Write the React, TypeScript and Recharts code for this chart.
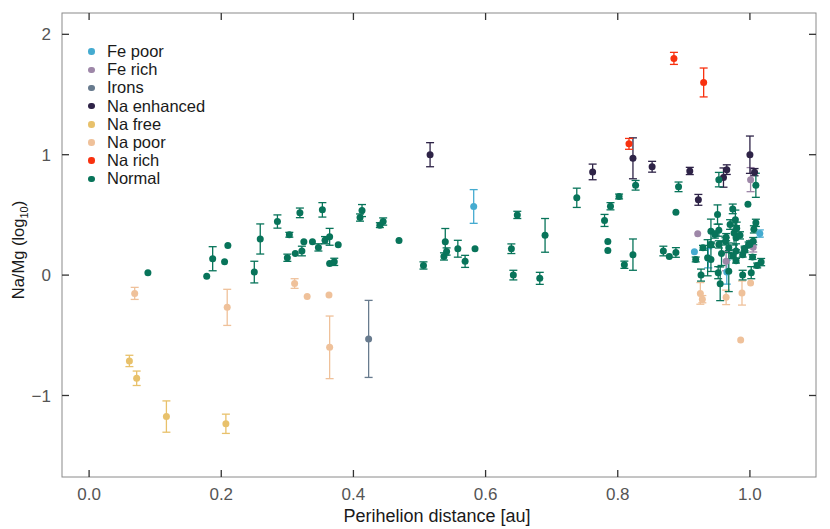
import React from 'react';
import { ErrorBar, Scatter, ScatterChart, XAxis, YAxis } from 'recharts';

type Pt = [number, number, number]; // perihelion distance, Na/Mg, error

const X_TICKS = [0, 0.2, 0.4, 0.6, 0.8, 1.0];
const Y_TICKS = [-1, 0, 1, 2];
const X_DOMAIN: [number, number] = [-0.041, 1.1];
const Y_DOMAIN: [number, number] = [-1.677, 2.177];

const FE_POOR: Pt[] = [
  [0.582, 0.57, 0.14], [0.916, 0.194, 0.0], [0.937, 0.14, 0.08], [0.965, 0.025, 0.1], [1.015, 0.345, 0.03],
];
const FE_RICH: Pt[] = [
  [0.921, 0.343, 0.0], [1.001, 0.793, 0.1], [1.005, 0.232, 0.04], [0.964, 0.116, 0.08], [1.003, 0.26, 0.03],
];
const IRONS: Pt[] = [[0.423, -0.53, 0.32]];
const NA_ENHANCED: Pt[] = [
  [0.516, 1.0, 0.1], [0.762, 0.857, 0.065], [0.823, 0.97, 0.17], [0.852, 0.9, 0.045], [0.909, 0.865, 0.03],
  [0.922, 0.625, 0.045], [0.96, 0.81, 0.08], [0.965, 0.876, 0.04], [1.0, 1.0, 0.155], [1.007, 0.855, 0.03],
];
const NA_FREE: Pt[] = [
  [0.061, -0.713, 0.047], [0.072, -0.857, 0.06], [0.117, -1.175, 0.13], [0.207, -1.235, 0.08],
];
const NA_POOR: Pt[] = [
  [0.069, -0.152, 0.05], [0.209, -0.268, 0.15], [0.311, -0.07, 0.04], [0.33, -0.177, 0.0],
  [0.363, -0.166, 0.0], [0.364, -0.6, 0.26], [0.925, -0.152, 0.09], [0.928, -0.2, 0.03],
  [0.964, -0.185, 0.06], [0.988, -0.149, 0.1], [1.001, -0.066, 0.0], [0.986, -0.54, 0.0],
];
const NA_RICH: Pt[] = [[0.817, 1.09, 0.045], [0.885, 1.8, 0.05], [0.93, 1.6, 0.12]];
const NORMAL: Pt[] = [
  [0.089, 0.02, 0.0], [0.178, -0.01, 0.0], [0.187, 0.136, 0.1], [0.205, 0.11, 0.0], [0.21, 0.246, 0.0],
  [0.25, 0.025, 0.09], [0.259, 0.3, 0.125], [0.285, 0.445, 0.055], [0.3, 0.144, 0.03], [0.303, 0.335, 0.02],
  [0.312, 0.18, 0.0], [0.319, 0.517, 0.04], [0.322, 0.2, 0.04], [0.325, 0.277, 0.0], [0.338, 0.277, 0.0],
  [0.347, 0.23, 0.03], [0.353, 0.542, 0.06], [0.357, 0.29, 0.03], [0.364, 0.318, 0.07], [0.364, 0.097, 0.0],
  [0.371, 0.11, 0.03], [0.377, 0.252, 0.0], [0.41, 0.478, 0.03], [0.413, 0.536, 0.05], [0.44, 0.415, 0.02],
  [0.445, 0.445, 0.03], [0.469, 0.288, 0.0], [0.506, 0.08, 0.03], [0.539, 0.277, 0.11], [0.537, 0.155, 0.03],
  [0.541, 0.196, 0.03], [0.558, 0.219, 0.07], [0.569, 0.114, 0.05], [0.584, 0.219, 0.0], [0.639, 0.219, 0.04],
  [0.642, 0.0, 0.04], [0.648, 0.5, 0.03], [0.682, -0.027, 0.05], [0.69, 0.33, 0.14], [0.738, 0.642, 0.08],
  [0.78, 0.454, 0.05], [0.785, 0.28, 0.0], [0.785, 0.205, 0.0], [0.789, 0.572, 0.03], [0.802, 0.653, 0.02],
  [0.81, 0.086, 0.03], [0.823, 0.17, 0.13], [0.827, 0.746, 0.04], [0.869, 0.2, 0.04], [0.878, 0.155, 0.0],
  [0.888, 0.522, 0.0], [0.888, 0.188, 0.04], [0.892, 0.733, 0.04],
  [0.926, 0.0, 0.05], [0.918, 0.13, 0.02], [0.929, 0.227, 0.02], [0.936, 0.144, 0.15], [0.941, 0.13, 0.1],
  [0.941, 0.365, 0.1], [0.947, 0.337, 0.03], [0.941, 0.255, 0.02], [0.951, 0.503, 0.08], [0.953, 0.373, 0.05],
  [0.953, 0.255, 0.03], [0.953, 0.793, 0.06], [0.952, 0.02, 0.05], [0.955, -0.072, 0.14], [0.957, 0.18, 0.1],
  [0.964, 0.315, 0.03], [0.968, 0.227, 0.04], [0.968, 0.033, 0.17], [0.974, 0.55, 0.04], [0.974, 0.158, 0.02],
  [0.976, 0.35, 0.1], [0.978, 0.46, 0.08], [0.979, 0.31, 0.1], [0.98, 0.39, 0.05], [0.979, 0.2, 0.06],
  [0.979, 0.12, 0.02], [0.989, 0.0, 0.04], [0.989, 0.17, 0.02], [0.992, 0.207, 0.02], [0.992, 0.22, 0.02],
  [0.997, 0.589, 0.0], [0.998, 0.255, 0.02], [1.0, 0.255, 0.03], [1.002, 0.02, 0.05], [1.004, 0.15, 0.02],
  [1.005, 0.282, 0.03], [1.006, 0.38, 0.03], [1.009, 0.746, 0.1], [1.009, 0.434, 0.03], [1.011, 0.08, 0.02],
  [1.017, 0.108, 0.03], [0.963, 0.28, 0.03], [0.985, 0.33, 0.03], [0.97, 0.42, 0.04],
];

const SERIES = [
  { name: 'Fe poor', color: '#45abd0', points: FE_POOR },
  { name: 'Fe rich', color: '#9e87a8', points: FE_RICH },
  { name: 'Irons', color: '#687b8e', points: IRONS },
  { name: 'Na enhanced', color: '#2e2347', points: NA_ENHANCED },
  { name: 'Na free', color: '#e8c16b', points: NA_FREE },
  { name: 'Na poor', color: '#efc19a', points: NA_POOR },
  { name: 'Na rich', color: '#f8310f', points: NA_RICH },
  { name: 'Normal', color: '#08745a', points: NORMAL },
];

const W = 830;
const H = 529;
const MARGIN = { top: 13, right: 14, bottom: 0, left: 0 };
const PLOT_LEFT = 62;
const PLOT_RIGHT = W - MARGIN.right;
const PLOT_TOP = MARGIN.top;
const PLOT_BOTTOM = 477;
const FONT = '"Liberation Sans", Arial, Helvetica, sans-serif';
const FRAME = '#8a8a8a';
const TICK = '#333';
const TICK_LEN = 7;
const TICK_TEXT = '#555';
const fmtY = (v: number) => (v < 0 ? `\u2212${Math.abs(v)}` : `${v}`);

// same linear mapping as the chart's axes, used only for the frame ticks
const px = (v: number) => PLOT_LEFT + ((v - X_DOMAIN[0]) / (X_DOMAIN[1] - X_DOMAIN[0])) * (PLOT_RIGHT - PLOT_LEFT);
const py = (v: number) => PLOT_BOTTOM - ((v - Y_DOMAIN[0]) / (Y_DOMAIN[1] - Y_DOMAIN[0])) * (PLOT_BOTTOM - PLOT_TOP);

const XTickLabel = (p: any) => (
  <text x={p.x} y={p.y} dy="0.71em" textAnchor="middle" fontSize={17} fill={TICK_TEXT} fontFamily={FONT}>
    {Number(p.payload.value).toFixed(1)}
  </text>
);

const YTickLabel = (p: any) => (
  <text x={p.x} y={p.y} dy="0.355em" textAnchor="end" fontSize={17} fill={TICK_TEXT} fontFamily={FONT}>
    {fmtY(p.payload.value)}
  </text>
);

const Frame: React.FC = () => (
  <svg
    width={W}
    height={H}
    style={{ position: 'absolute', left: 0, top: 0, pointerEvents: 'none' }}
  >
    <rect
      x={PLOT_LEFT}
      y={PLOT_TOP}
      width={PLOT_RIGHT - PLOT_LEFT}
      height={PLOT_BOTTOM - PLOT_TOP}
      fill="none"
      stroke={FRAME}
      strokeWidth={1}
    />
    {X_TICKS.map((t) => (
      <g key={`x${t}`}>
        <line x1={px(t)} x2={px(t)} y1={PLOT_BOTTOM} y2={PLOT_BOTTOM - TICK_LEN} stroke={TICK} strokeWidth={1.3} />
        <line x1={px(t)} x2={px(t)} y1={PLOT_TOP} y2={PLOT_TOP + TICK_LEN} stroke={TICK} strokeWidth={1.3} />
      </g>
    ))}
    {Y_TICKS.map((t) => (
      <g key={`y${t}`}>
        <line x1={PLOT_LEFT} x2={PLOT_LEFT + TICK_LEN} y1={py(t)} y2={py(t)} stroke={TICK} strokeWidth={1.3} />
        <line x1={PLOT_RIGHT} x2={PLOT_RIGHT - TICK_LEN} y1={py(t)} y2={py(t)} stroke={TICK} strokeWidth={1.3} />
      </g>
    ))}
  </svg>
);

const App: React.FC = () => (
  <div style={{ position: 'absolute', left: 0, top: 0, width: W, height: H, background: '#fff', fontFamily: FONT }}>
    <ScatterChart width={W} height={H} margin={MARGIN}>
      <XAxis
        type="number"
        dataKey="x"
        domain={X_DOMAIN}
        ticks={X_TICKS}
        allowDataOverflow
        height={52}
        axisLine={false}
        tickLine={false}
        tickMargin={5}
        tick={<XTickLabel />}
      />
      <YAxis
        type="number"
        dataKey="y"
        domain={Y_DOMAIN}
        ticks={Y_TICKS}
        allowDataOverflow
        width={62}
        axisLine={false}
        tickLine={false}
        tickMargin={5}
        tick={<YTickLabel />}
      />
      {SERIES.map((s) => (
        <Scatter
          key={s.name}
          name={s.name}
          data={s.points.map(([x, y, err]) => ({ x, y, err }))}
          fill={s.color}
          isAnimationActive={false}
          shape={(p: any) => <circle cx={p.cx} cy={p.cy} r={3.5} fill={s.color} />}
        >
          <ErrorBar dataKey="err" direction="y" width={4} stroke={s.color} strokeWidth={1.3} isAnimationActive={false} />
        </Scatter>
      ))}
    </ScatterChart>
    <Frame />
    <div
      style={{
        position: 'absolute',
        left: 287,
        top: 505.8,
        width: 300,
        height: 20,
        lineHeight: '20px',
        textAlign: 'center',
        fontSize: 18,
        color: '#1a1a1a',
        whiteSpace: 'nowrap',
      }}
    >
      Perihelion distance [au]
    </div>
    <div
      style={{
        position: 'absolute',
        left: -81.7,
        top: 241,
        width: 200,
        height: 18,
        lineHeight: '18px',
        textAlign: 'center',
        fontSize: 16.5,
        color: '#1a1a1a',
        whiteSpace: 'nowrap',
        transform: 'rotate(-90deg)',
      }}
    >
      Na/Mg (log<span style={{ fontSize: 11, position: 'relative', top: 4 }}>10</span>)
    </div>
    <div style={{ position: 'absolute', left: 88, top: 42.5, fontSize: 16.5, color: '#1a1a1a' }}>
      {SERIES.map((s) => (
        <div key={s.name} style={{ display: 'flex', alignItems: 'center', height: 18.2 }}>
          <span style={{ width: 6.5, height: 6.5, borderRadius: '50%', background: s.color, display: 'inline-block' }} />
          <span style={{ marginLeft: 12.5, whiteSpace: 'nowrap' }}>{s.name}</span>
        </div>
      ))}
    </div>
  </div>
);

export default App;
